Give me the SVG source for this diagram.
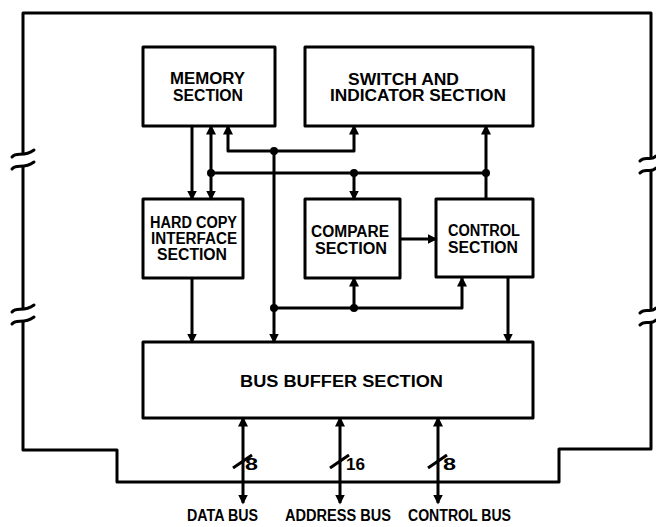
<svg xmlns="http://www.w3.org/2000/svg" width="656" height="527" viewBox="0 0 656 527">
<style>
.box{fill:#fff;stroke:#000;stroke-width:3;stroke-linejoin:round}
.ln{fill:none;stroke:#000;stroke-width:3;stroke-linejoin:round}
.brk{fill:none;stroke:#000;stroke-width:3;stroke-linecap:round}
.dot{fill:#000}
text{font-family:"Liberation Sans",Arial,sans-serif;font-weight:bold;font-size:16px;fill:#000}
</style>
<defs>
<marker id="ah" viewBox="0 0 10 10" refX="8.5" refY="5" markerWidth="10" markerHeight="11" markerUnits="userSpaceOnUse" orient="auto-start-reverse">
<path d="M0,0 L10,5 L0,10 z" fill="#000"/>
</marker>
</defs>
<rect width="656" height="527" fill="#fff"/>
<g id="frame">
<path class="ln" d="M23,154 V13 H651 V158 M651,170 V310 M651,322 V449 H559 V482 H117 V450 H23 V321 M23,309 V166"/>
<path class="brk" d="M12,157 C17,151 23,158 34,150 M12,169 C17,163 23,170 34,162"/>
<path class="brk" d="M12,312 C17,306 23,313 34,305 M12,324 C17,318 23,325 34,317"/>
<path class="brk" d="M640,161 C645,155 651,162 656,156 M640,173 C645,167 651,174 656,168"/>
<path class="brk" d="M640,313 C645,307 651,314 656,308 M640,325 C645,319 651,326 656,320"/>
</g>
<g id="memory">
<rect class="box" x="143" y="47" width="132" height="79"/>
<text x="207.5" y="84" text-anchor="middle" textLength="75" lengthAdjust="spacingAndGlyphs">MEMORY</text>
<text x="208" y="101" text-anchor="middle" textLength="70" lengthAdjust="spacingAndGlyphs">SECTION</text>
</g>
<g id="switch">
<rect class="box" x="305" y="47" width="228" height="79"/>
<text x="403.5" y="85" text-anchor="middle" textLength="111" lengthAdjust="spacingAndGlyphs">SWITCH AND</text>
<text x="418" y="101" text-anchor="middle" textLength="176" lengthAdjust="spacingAndGlyphs">INDICATOR SECTION</text>
</g>
<g id="hardcopy">
<rect class="box" x="143" y="199" width="100" height="79"/>
<text x="193.5" y="228" text-anchor="middle" textLength="87" lengthAdjust="spacingAndGlyphs">HARD COPY</text>
<text x="194" y="244" text-anchor="middle" textLength="86" lengthAdjust="spacingAndGlyphs">INTERFACE</text>
<text x="192" y="260" text-anchor="middle" textLength="70" lengthAdjust="spacingAndGlyphs">SECTION</text>
</g>
<g id="compare">
<rect class="box" x="305" y="199" width="95" height="79"/>
<text x="350" y="237" text-anchor="middle" textLength="78" lengthAdjust="spacingAndGlyphs">COMPARE</text>
<text x="351" y="254" text-anchor="middle" textLength="72" lengthAdjust="spacingAndGlyphs">SECTION</text>
</g>
<g id="control">
<rect class="box" x="436" y="199" width="97" height="78"/>
<text x="484" y="236" text-anchor="middle" textLength="72" lengthAdjust="spacingAndGlyphs">CONTROL</text>
<text x="483" y="253" text-anchor="middle" textLength="70" lengthAdjust="spacingAndGlyphs">SECTION</text>
</g>
<g id="busbuffer">
<rect class="box" x="143" y="342" width="390" height="76"/>
<text x="341.5" y="387" text-anchor="middle" textLength="203" lengthAdjust="spacingAndGlyphs">BUS BUFFER SECTION</text>
</g>
<g id="connectors">
<path class="ln" d="M192,126 V199" marker-end="url(#ah)"/>
<path class="ln" d="M211,126 V199" marker-start="url(#ah)" marker-end="url(#ah)"/>
<path class="ln" d="M211,173 H486"/>
<path class="ln" d="M354,173 V199" marker-end="url(#ah)"/>
<path class="ln" d="M486,199 V126" marker-end="url(#ah)"/>
<path class="ln" d="M228,126 V151 H354 V126" marker-start="url(#ah)" marker-end="url(#ah)"/>
<path class="ln" d="M274,151 V342" marker-end="url(#ah)"/>
<path class="ln" d="M274,308 H462 V278" marker-end="url(#ah)"/>
<path class="ln" d="M354,308 V278" marker-end="url(#ah)"/>
<path class="ln" d="M400,239 H436" marker-end="url(#ah)"/>
<path class="ln" d="M508,277 V342" marker-end="url(#ah)"/>
<path class="ln" d="M192,278 V342" marker-end="url(#ah)"/>
<path class="ln" d="M243,418 V503" marker-start="url(#ah)" marker-end="url(#ah)"/>
<path class="ln" d="M340,418 V503" marker-start="url(#ah)" marker-end="url(#ah)"/>
<path class="ln" d="M438,418 V503" marker-start="url(#ah)" marker-end="url(#ah)"/>
<path class="ln" d="M233,468 L252,455 M330,468 L349,455 M428,468 L447,455"/>
<circle class="dot" cx="211" cy="173" r="4"/>
<circle class="dot" cx="354" cy="173" r="4"/>
<circle class="dot" cx="486" cy="173" r="4"/>
<circle class="dot" cx="274" cy="151" r="4"/>
<circle class="dot" cx="274" cy="308" r="4"/>
<circle class="dot" cx="354" cy="308" r="4"/>
</g>
<g id="labels">
<text x="251.5" y="470" text-anchor="middle" textLength="13" lengthAdjust="spacingAndGlyphs">8</text>
<text x="355.5" y="470" text-anchor="middle" textLength="19" lengthAdjust="spacingAndGlyphs">16</text>
<text x="449.5" y="470" text-anchor="middle" textLength="13" lengthAdjust="spacingAndGlyphs">8</text>
<text x="222.5" y="521" text-anchor="middle" textLength="71" lengthAdjust="spacingAndGlyphs">DATA BUS</text>
<text x="338" y="521" text-anchor="middle" textLength="106" lengthAdjust="spacingAndGlyphs">ADDRESS BUS</text>
<text x="459.5" y="521" text-anchor="middle" textLength="103" lengthAdjust="spacingAndGlyphs">CONTROL BUS</text>
</g>
</svg>
